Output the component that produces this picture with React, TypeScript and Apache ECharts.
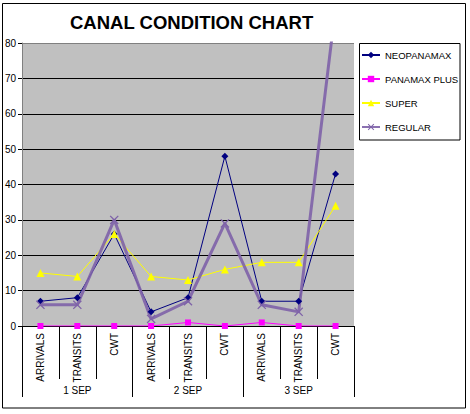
import React, { useEffect, useRef } from "react";
import * as echarts from "echarts";

const categories = ["ARRIVALS", "TRANSITS", "CWT", "ARRIVALS", "TRANSITS", "CWT", "ARRIVALS", "TRANSITS", "CWT"];
const groups = ["1 SEP", "2 SEP", "3 SEP"];
const neopanamax = [7, 8, 26, 4, 8, 48, 7, 7, 43];
const panamaxPlus = [0, 0, 0, 0, 1, 0, 1, 0, 0];
const superVals = [15, 14, 26, 14, 13, 16, 18, 18, 34];
const regular = [6, 6, 30, 2, 7, 29, 6, 4, 90];

const FONT = "Liberation Sans, Arial, sans-serif";
const X_SYMBOL = "path://M0,1L1,0L5,4L9,0L10,1L6,5L10,9L9,10L5,6L1,10L0,9L4,5Z";

export default function App() {
  const ref = useRef<HTMLDivElement>(null);
  useEffect(() => {
    document.body.style.margin = "0";
    const chart = echarts.init(ref.current!, null, { renderer: "svg" });
    chart.setOption({
      animation: false,
      backgroundColor: "#ffffff",
      textStyle: { fontFamily: FONT },
      title: {
        text: "CANAL CONDITION CHART",
        left: 70,
        top: 13,
        padding: 0,
        textStyle: { fontFamily: FONT, fontSize: 18.5, fontWeight: "bold", color: "#000" },
      },
      grid: {
        left: 22,
        top: 43,
        right: 116,
        bottom: 88,
        show: true,
        backgroundColor: "#C0C0C0",
        borderWidth: 0,
      },
      legend: {
        orient: "vertical",
        left: 359,
        top: 43,
        padding: [7, 4, 8, 2],
        itemWidth: 18,
        itemHeight: 8,
        itemGap: 14,
        textStyle: { fontFamily: FONT, fontSize: 9.5, color: "#000" },
        data: ["NEOPANAMAX", "PANAMAX PLUS", "SUPER", "REGULAR"],
      },
      xAxis: [
        {
          type: "category",
          data: categories,
          boundaryGap: true,
          axisLine: { show: true, lineStyle: { color: "#000", width: 1 } },
          axisTick: { show: true, interval: 0, length: 53, lineStyle: { color: "#000" } },
          axisLabel: { interval: 0, rotate: 90, margin: 7, fontSize: 10, color: "#000", fontFamily: FONT },
          splitLine: { show: false },
        },
        {
          type: "category",
          data: groups,
          position: "bottom",
          boundaryGap: true,
          axisLine: { show: false },
          axisTick: { show: true, interval: 0, length: 71, lineStyle: { color: "#000" } },
          axisLabel: { interval: 0, margin: 59, fontSize: 10, color: "#000", fontFamily: FONT },
          splitLine: { show: false },
        },
      ],
      yAxis: {
        type: "value",
        min: 0,
        max: 80,
        interval: 10,
        axisLine: { show: true, lineStyle: { color: "#808080" } },
        axisTick: { show: true, length: 4, lineStyle: { color: "#000" } },
        axisLabel: { fontSize: 10, color: "#000", margin: 6, fontFamily: FONT },
        splitLine: {
          show: true,
          lineStyle: {
            color: ["#000", "#000", "#000", "#000", "#000", "#000", "#000", "#000", "#808080"],
            width: 1,
          },
        },
      },
      series: [
        {
          name: "NEOPANAMAX",
          type: "line",
          data: neopanamax,
          color: "#000080",
          symbol: "diamond",
          symbolSize: 7,
          lineStyle: { width: 1, color: "#000080" },
          itemStyle: { color: "#000080" },
        },
        {
          name: "PANAMAX PLUS",
          type: "line",
          data: panamaxPlus,
          color: "#FF00FF",
          symbol: "rect",
          symbolSize: 6,
          lineStyle: { width: 1, color: "#FF00FF" },
          itemStyle: { color: "#FF00FF" },
        },
        {
          name: "SUPER",
          type: "line",
          data: superVals,
          color: "#FFFF00",
          symbol: "triangle",
          symbolSize: 8,
          lineStyle: { width: 1, color: "#FFFF00" },
          itemStyle: { color: "#FFFF00" },
        },
        {
          name: "REGULAR",
          type: "line",
          data: regular,
          color: "#7E62A8",
          symbol: X_SYMBOL,
          symbolSize: 9,
          lineStyle: { width: 3, color: "#7E62A8", opacity: 0.9 },
          itemStyle: { color: "#7E62A8" },
        },
      ],
      graphic: [
        {
          type: "rect",
          shape: { x: 2.5, y: 3.5, width: 463, height: 404.5 },
          style: { fill: "none", stroke: "#000", lineWidth: 1 },
          silent: true,
          z: -1,
        },
        {
          type: "rect",
          shape: { x: 359.5, y: 43.5, width: 100.5, height: 96.5 },
          style: { fill: "none", stroke: "#000", lineWidth: 1 },
          silent: true,
        },
      ],
    });
    return () => chart.dispose();
  }, []);
  return (
    <div
      ref={ref}
      style={{ position: "absolute", left: 0, top: 0, width: 470, height: 414 }}
    />
  );
}
